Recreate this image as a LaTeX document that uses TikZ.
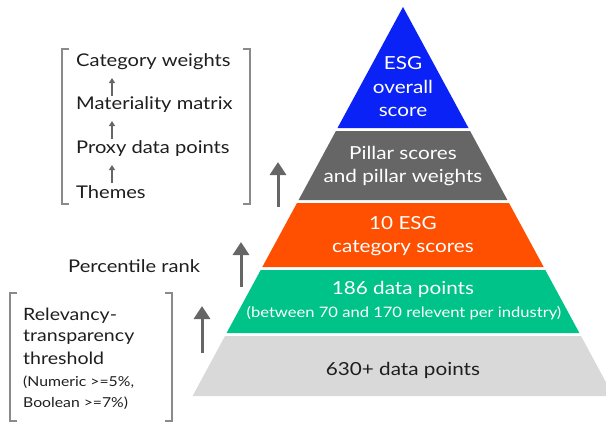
\documentclass[tikz,border=0pt]{standalone}
\usepackage{fontspec}
\setmainfont{Lato}[FakeStretch=1.15]
\usetikzlibrary{arrows.meta,calc}
\definecolor{esgblue}{HTML}{0A22F5}
\definecolor{pillargray}{HTML}{666666}
\definecolor{esgorange}{HTML}{FE5000}
\definecolor{esggreen}{HTML}{00C389}
\definecolor{basegray}{HTML}{D9D9D9}
\definecolor{inkdark}{HTML}{1E1E1E}
\definecolor{bracketgray}{HTML}{8A8A8A}
\definecolor{arrowgray}{HTML}{666666}
\begin{document}
\begin{tikzpicture}[x=1pt,y=-1pt,
  bigtext/.style={font=\fontsize{18}{23.5}\selectfont, align=center, inner sep=0pt},
  smalltext/.style={font=\fontsize{14.4}{18}\selectfont, align=center, inner sep=0pt},
  listtext/.style={font=\fontsize{17.5}{20}\selectfont, text=inkdark, anchor=west, inner sep=0pt},
  notetext/.style={font=\fontsize{13.7}{21}\selectfont, text=inkdark, anchor=west, inner sep=0pt},
  bracket/.style={draw=bracketgray, line width=1.3pt},
  bigarrow/.style={draw=arrowgray, line width=3pt, -{Triangle[width=16pt,length=13pt]}},
  smallarrow/.style={draw=arrowgray, line width=1.2pt, -{Triangle[width=6pt,length=5pt]}}]
\useasboundingbox (0,0) rectangle (606,423);

% pyramid layers, apex at (403,7), half width 0.541 per unit of height
\begin{scope}
  \clip (0,0) rectangle (606,423);
  \fill[esgblue]    (403,7) -- (468.5,128) -- (337.5,128) -- cycle;
  \fill[pillargray] (335.9,131) -- (470.1,131) -- (507.4,200) -- (298.6,200) -- cycle;
  \fill[esgorange]  (297.0,203) -- (509.0,203) -- (543.7,267) -- (262.3,267) -- cycle;
  \fill[esggreen]   (260.7,270) -- (545.3,270) -- (579.4,333) -- (226.6,333) -- cycle;
  \fill[basegray]   (225.0,336) -- (581.0,336) -- (613.4,396) -- (192.6,396) -- cycle;
\end{scope}

% layer labels
\node[bigtext, text=white] (overall) at (403,87) {ESG\\overall\\score};
\node[bigtext, text=white] (pillar) at (403,166) {Pillar scores\\and pillar weights};
\node[bigtext, text=white] (category) at (403,236) {10 ESG\\category scores};
\node[bigtext, text=white] (points) at (403,289) {186 data points};
\node[smalltext, text=white] (range) at (404,313) {(between 70 and 170 relevent per industry)};
\node[bigtext, text=inkdark] (all) at (403,370) {630+ data points};

% weighting steps inside the upper bracket
\node[listtext] (weights) at (76,62) {Category weights};
\node[listtext] (matrix) at (76,105) {Materiality matrix};
\node[listtext] (proxy) at (76,149) {Proxy data points};
\node[listtext] (themes) at (76,192) {Themes};
\coordinate (a1s) at (112,183);
\coordinate (a1e) at (112,165);
\coordinate (a2s) at (112,139);
\coordinate (a2e) at (112,121);
\coordinate (a3s) at (112,96);
\coordinate (a3e) at (112,78);
\draw[smallarrow] (a1s) -- (a1e);
\draw[smallarrow] (a2s) -- (a2e);
\draw[smallarrow] (a3s) -- (a3e);

% upper bracket
\coordinate (ub1) at (62,49);
\coordinate (ub2) at (62,204);
\coordinate (ub3) at (250,49);
\coordinate (ub4) at (250,204);
\draw[bracket] ($(ub1)+(7,0)$) -- (ub1) -- (ub2) -- ($(ub2)+(7,0)$);
\draw[bracket] ($(ub3)+(-7,0)$) -- (ub3) -- (ub4) -- ($(ub4)+(-7,0)$);

% percentile rank
\node[listtext] (rank) at (68,266) {Percentile rank};

% threshold note inside the lower bracket
\node[listtext, font=\fontsize{17}{21}\selectfont] (relev) at (23,316) {Relevancy-};
\node[listtext, font=\fontsize{17}{21}\selectfont] (transp) at (23,337) {transparency};
\node[listtext, font=\fontsize{17}{21}\selectfont] (thresh) at (23,358) {threshold};
\node[notetext] (numeric) at (23,382) {(Numeric >=5\%,};
\node[notetext] (boolean) at (23,403) {Boolean >=7\%)};

\coordinate (lb1) at (10,293);
\coordinate (lb2) at (10,421);
\coordinate (lb3) at (172,293);
\coordinate (lb4) at (172,421);
\draw[bracket] ($(lb1)+(7,0)$) -- (lb1) -- (lb2) -- ($(lb2)+(7,0)$);
\draw[bracket] ($(lb3)+(-7,0)$) -- (lb3) -- (lb4) -- ($(lb4)+(-7,0)$);

% upward arrows beside the pyramid
\coordinate (b1s) at (278,207);
\coordinate (b1e) at (278,162);
\coordinate (b2s) at (241,287);
\coordinate (b2e) at (241,242);
\coordinate (b3s) at (202,353);
\coordinate (b3e) at (202,306);
\draw[bigarrow] (b1s) -- (b1e);
\draw[bigarrow] (b2s) -- (b2e);
\draw[bigarrow] (b3s) -- (b3e);
\end{tikzpicture}
\end{document}
